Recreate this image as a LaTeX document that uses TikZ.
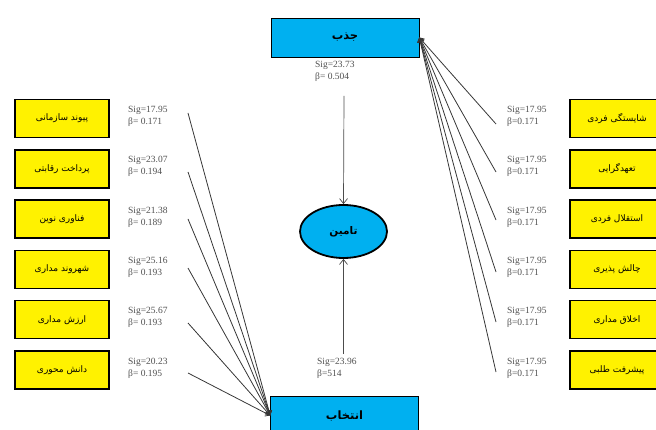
\documentclass[tikz,border=0pt]{standalone}
\usepackage{fontspec}
\setmainfont{Liberation Serif}
\newfontfamily\fa[Script=Arabic]{DejaVu Sans}
\TeXXeTstate=1
\usetikzlibrary{shapes.geometric,arrows.meta}
\definecolor{boxblue}{RGB}{0,176,240}
\definecolor{wire}{RGB}{55,55,55}
\definecolor{statgray}{RGB}{80,80,80}
\newcommand\fatext[1]{{\fa\beginR #1\endR}}
\tikzset{
  factor/.style={draw=black, line width=1.6pt, fill=yellow, minimum width=94pt,
    minimum height=38pt, inner sep=0pt, font=\fontsize{9}{11}\selectfont},
  construct/.style={draw=black, line width=0.6pt, fill=boxblue, minimum width=148pt,
    minimum height=39pt, inner sep=0pt, font=\bfseries\fontsize{11.5}{13}\selectfont},
  hub/.style={ellipse, draw=black, line width=1.8pt, fill=boxblue, minimum width=87pt,
    minimum height=53pt, inner sep=0pt, font=\bfseries\fontsize{10.5}{12}\selectfont},
  stat/.style={inner sep=0pt, align=left, text=statgray, font=\fontsize{9.5}{12}\selectfont},
  wirearrow/.style={draw=wire, line width=0.8pt, -{Straight Barb[length=4pt,width=6pt]}},
  midarrow/.style={draw=black!70, line width=0.7pt, -{Straight Barb[length=5pt,width=8pt]}}
}
\begin{document}
\begin{tikzpicture}[x=1pt, y=-1pt]
\useasboundingbox (0,0) rectangle (656,430);
\clip (0,0) rectangle (656,430);

% central constructs
\node[construct] (jazb) at (345,37.5) {\fatext{جذب}};
\node[construct] (entekhab) at (344.5,415.5) {\fatext{انتخاب}};
\node[hub] (tamin) at (343.5,231.5) {\fatext{تامین}};

% left factors (selection)
\foreach \i/\y/\t/\s/\b in {
  1/118.5/{پیوند سازمانی}/17.95/0.171,
  2/168.8/{پرداخت رقابتی}/23.07/0.194,
  3/219.1/{فناوری نوین}/21.38/0.189,
  4/269.4/{شهروند مداری}/25.16/0.193,
  5/319.7/{ارزش مداری}/25.67/0.193,
  6/370.0/{دانش محوری}/20.23/0.195}{
  \node[factor] (L\i) at (62,\y) {\fatext{\t}};
  \node[stat, anchor=west] (sL\i) at (128,\y-2) {Sig=\s\\β= \b};
}

% right factors (attraction)
\foreach \i/\y/\t in {
  1/118.5/{شایستگی فردی},
  2/168.8/{تعهدگرایی},
  3/219.1/{استقلال فردی},
  4/269.4/{چالش پذیری},
  5/319.7/{اخلاق مداری},
  6/370.0/{پیشرفت طلبی}}{
  \node[factor] (R\i) at (617,\y) {\fatext{\t}};
  \node[stat, anchor=west] (sR\i) at (507,\y-2) {Sig=17.95\\β=0.171};
}

% path coefficients of the constructs
\node[stat, anchor=north west] (sJ) at (315,61) {Sig=23.73\\β= 0.504};
\node[stat, anchor=north west] (sE) at (317,358) {Sig=23.96\\β=514};

% loose ends of the connectors
\coordinate (eL1) at (188,113);
\coordinate (eL2) at (188,172);
\coordinate (eL3) at (188,219);
\coordinate (eL4) at (188,268);
\coordinate (eL5) at (188,323);
\coordinate (eL6) at (188,373);
\coordinate (eR1) at (496,124);
\coordinate (eR2) at (496,172);
\coordinate (eR3) at (496,220);
\coordinate (eR4) at (496,272);
\coordinate (eR5) at (496,322);
\coordinate (eR6) at (496,372);
\coordinate (eTop) at (344,96);
\coordinate (eBot) at (343.5,354);

\foreach \i in {1,...,6}{
  \draw[wirearrow] (eL\i) -- (entekhab.west);
  \draw[wirearrow] (eR\i) -- (jazb.east);
}
\draw[midarrow] (eTop) -- (tamin.north);
\draw[midarrow] (eBot) -- (tamin.south);
\end{tikzpicture}
\end{document}
